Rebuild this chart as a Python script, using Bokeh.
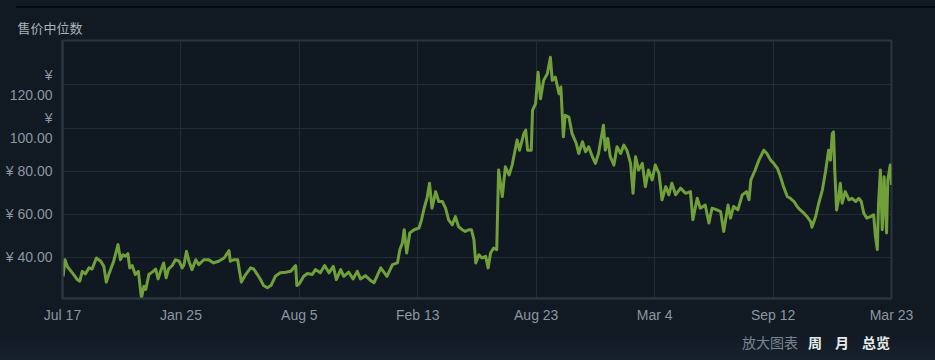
from bokeh.plotting import figure
from bokeh.models import Range1d, FixedTicker, Div
from bokeh.layouts import column
from bokeh.embed import file_html
from bokeh.resources import INLINE

# ---- data (day offset from Jul 17, median price in CNY) ----
days = [1, 4, 8, 16, 24, 28, 32, 37, 43, 48, 55, 62, 67, 71, 75, 83, 90, 94, 98, 102,
        106, 109, 113, 118, 123, 128, 132, 135, 140, 147, 151, 155, 159, 164, 168, 172,
        178, 183, 189, 194, 197, 201, 205, 210, 216, 221, 229, 237, 245, 253, 262, 270,
        272, 278, 284, 287, 290, 297, 305, 310, 316, 321, 326, 332, 338, 345, 353, 362,
        370, 378, 380, 385, 391, 397, 405, 410, 418, 425, 432, 439, 444, 451, 456, 464,
        471, 478, 483, 491, 499, 505,
        516, 526, 535, 543, 547, 551, 554, 558, 563, 570, 578, 582, 587, 591, 595, 599,
        605, 610, 616, 621, 626, 632, 637, 642, 648, 653, 659, 663, 667, 670, 675, 680,
        686, 690, 694, 699, 704,
        707, 713, 718, 724, 729, 737, 741, 748, 751, 754, 760, 762, 767, 771, 775, 780,
        786, 791, 794, 799, 805, 808, 812, 815, 821, 826, 833, 837, 843, 848, 853, 859,
        864, 869, 877, 880, 884, 888, 894, 899, 905, 910, 915, 921, 925, 929, 934, 940,
        945, 950, 956, 961, 967,
        972, 978, 983, 988, 994, 1002, 1010, 1018, 1022, 1029, 1034, 1042, 1048, 1053,
        1061, 1067, 1072, 1079, 1083, 1088, 1095, 1102, 1109, 1113, 1116, 1123, 1129,
        1137, 1142, 1148, 1153, 1159,
        1164, 1169, 1175, 1180, 1186, 1191, 1196, 1202, 1207, 1213, 1215, 1221, 1226,
        1232, 1237, 1242, 1245, 1248, 1250, 1252, 1255, 1258, 1261, 1264, 1269, 1275,
        1280, 1286, 1291, 1295, 1299, 1304, 1310, 1315, 1318, 1321, 1323, 1326, 1329,
        1332, 1336, 1338, 1342, 1344]

prices = [31.2, 38.9, 35.6, 32.8, 29.7, 28.9, 33.5, 32.3, 35.1, 34.6, 39.7, 38.2, 35.8,
          28.5, 32.0, 38.2, 45.9, 38.9, 41.2, 40.5, 41.7, 35.1, 36.2, 32.0, 33.5, 21.2,
          26.6, 25.1, 32.0, 33.5, 34.6, 30.0, 33.5, 37.4, 30.5, 34.6, 36.2, 38.9, 38.2,
          35.1, 36.6, 42.8, 38.2, 34.3, 38.9, 36.6, 38.9, 38.9, 37.4, 38.2, 39.7, 43.1,
          38.2, 38.9, 38.9, 33.5, 28.5, 32.0, 35.1, 34.6, 32.0, 29.7, 26.9, 25.9, 26.9,
          31.2, 32.8, 33.1, 33.5, 36.2, 26.9, 28.2, 31.2, 32.5, 32.0, 34.3, 32.8, 36.2,
          32.8, 35.8, 29.7, 34.3, 31.2, 33.1, 30.0, 33.5, 30.0, 31.5, 29.4, 28.2,
          35.1, 31.2, 36.6, 37.4, 43.6, 46.6, 52.8, 42.0, 51.3, 52.8, 53.6, 57.4, 63.6,
          67.4, 74.4, 62.8, 70.5, 65.9, 65.9, 62.8, 57.4, 55.1, 58.9, 54.3, 52.8, 52.0,
          52.8, 52.8, 48.2, 37.4, 41.2, 39.7, 40.5, 35.1, 42.0, 44.3, 43.6,
          80.5, 68.2, 82.0, 78.2, 82.8, 94.4, 89.7, 97.5, 99.0, 89.7, 89.7, 108.2, 111.3,
          125.9, 113.6, 122.1, 125.2, 132.8, 122.1, 123.6, 115.9, 119.0, 95.9, 105.9,
          105.1, 97.5, 92.8, 88.2, 93.6, 89.0, 91.3, 86.7, 83.6, 88.2, 101.3, 89.7, 95.2,
          86.7, 82.8, 91.3, 88.2, 92.1, 89.7, 83.6, 69.7, 86.7, 80.5, 83.6, 72.8, 80.5,
          75.9, 82.8, 79.0,
          66.7, 72.8, 69.0, 74.4, 69.0, 72.1, 69.7, 70.5, 57.4, 67.4, 62.8, 64.3, 55.9,
          62.8, 62.0, 61.2, 52.0, 64.3, 58.2, 63.6, 62.0, 69.0, 70.5, 66.7, 75.9, 80.5,
          85.1, 89.7, 88.2, 85.1, 83.6, 81.3,
          77.4, 72.8, 68.2, 67.4, 65.9, 63.6, 62.0, 60.5, 58.9, 56.6, 54.0, 58.9, 65.1,
          71.3, 79.7, 89.7, 85.1, 97.5, 98.2, 80.5, 62.0, 66.7, 74.4, 65.1, 70.5, 66.7,
          67.4, 65.9, 67.4, 65.9, 60.5, 58.2, 58.9, 59.7, 49.7, 43.6, 65.1, 80.5, 52.8,
          77.4, 51.3, 75.9, 82.8, 73.6]

tick_days = [0, 192, 384, 576, 768, 960, 1152, 1344]
tick_labels = ["Jul 17", "Jan 25", "Aug 5", "Feb 13", "Aug 23", "Mar 4", "Sep 12", "Mar 23"]
y_ticks = [40, 60, 80, 100, 120]
y_labels = ["¥ 40.00", "¥ 60.00", "¥ 80.00", "¥\n100.00", "¥\n120.00"]

title_text = "售价中位数"
zoom_label = "放大图表"
zoom_links = ["周", "月", "总览"]

BG = "#111923"
FRAME_BG = "#101821"
GRID = "#222d39"
LINE = "#71a03b"
TXT = "#8c96a0"
FONT = "Liberation Sans"
CJK = "Noto Sans CJK SC"

# top strip with the dark rule (drawn as a background band from x=16, y=6..8)
top = Div(width=935, height=10, margin=0, text="",
          styles={"background-color": BG,
                  "background-image": "linear-gradient(#05080b, #05080b)",
                  "background-repeat": "no-repeat",
                  "background-position": "16px 6px",
                  "background-size": "919px 2px"})

p = figure(width=935, height=320, output_backend="svg", toolbar_location=None,
           title=title_text,
           x_range=Range1d(0, 1344), y_range=Range1d(20.9, 140.6),
           min_border_left=62, min_border_right=44, min_border_top=30,
           min_border_bottom=32)
p.margin = 0
p.background_fill_color = FRAME_BG
p.border_fill_color = BG
p.outline_line_color = "#2a3540"
p.outline_line_width = 2

p.title.align = "left"
p.title.offset = -45
p.title.standoff = 8
p.title.text_font = CJK
p.title.text_font_size = "13px"
p.title.text_font_style = "normal"
p.title.text_color = "#aab3bc"

p.line(days, prices, line_color=LINE, line_width=3, line_join="round")

p.xaxis.ticker = FixedTicker(ticks=tick_days)
p.xaxis.major_label_overrides = {d: l for d, l in zip(tick_days, tick_labels)}
p.yaxis.ticker = FixedTicker(ticks=y_ticks)
p.yaxis.major_label_overrides = {v: l for v, l in zip(y_ticks, y_labels)}

for ax in (p.xaxis, p.yaxis):
    ax.axis_line_color = "#2a3540"
    ax.axis_line_width = 2
    ax.major_tick_line_color = None
    ax.minor_tick_line_color = None
    ax.major_label_text_color = TXT
    ax.major_label_text_font = FONT
    ax.major_label_text_font_size = "14px"
p.xaxis.major_label_standoff = 2
p.yaxis.major_label_standoff = 4

p.xgrid.ticker = FixedTicker(ticks=tick_days)
p.ygrid.ticker = FixedTicker(ticks=y_ticks)
p.grid.grid_line_color = GRID
p.grid.grid_line_width = 1

gaps = [10, 13, 13]
links_html = "".join(
    f'<b style="color:#e8ecef;margin-left:{g}px">{t}</b>' for g, t in zip(gaps, zoom_links))
bottom = Div(width=935, height=30, margin=0,
             styles={"background": f"linear-gradient(to bottom, {BG}, #16212c)",
                     "overflow": "hidden"},
             text=f'<div style="margin-top:2px;padding-left:742px;white-space:nowrap;'
                  f'font-family:\'{CJK}\';font-size:14px;line-height:20px">'
                  f'<span style="color:#7a848e">{zoom_label}</span>{links_html}</div>')

layout = column(top, p, bottom, spacing=0, margin=0,
                styles={"background-color": BG})

open("out.html", "w").write(file_html(layout, INLINE))
